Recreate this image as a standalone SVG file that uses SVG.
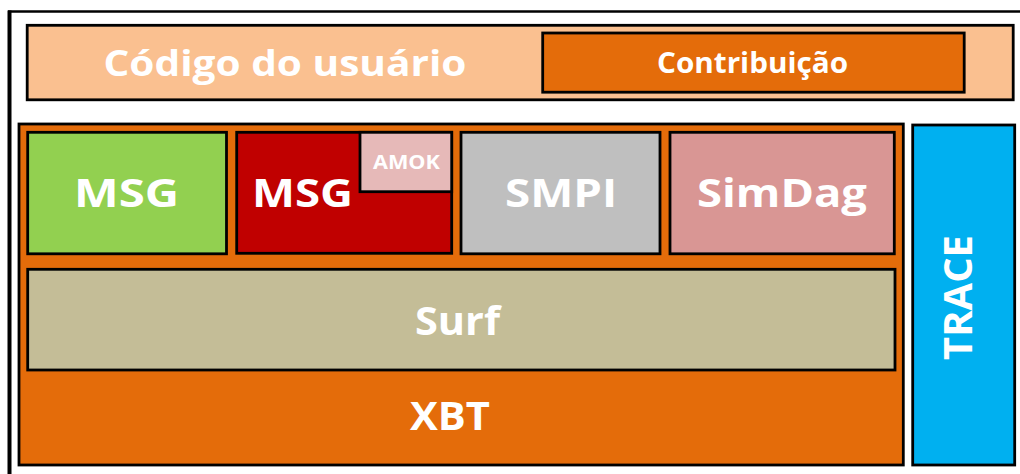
<svg xmlns="http://www.w3.org/2000/svg" width="1020" height="474" viewBox="0 0 1020 474">
  <style>
    .box { stroke: #000; stroke-width: 2.8; }
    .lbl { font-family: "Open Sans", "Liberation Sans", sans-serif; font-weight: 700; fill: #fff; text-anchor: middle; }
    .big { font-size: 40px; }
  </style>

  <!-- outer frame (runs off the right and bottom edges) -->
  <g id="frame" fill="none" stroke="#000">
    <line x1="9.5" y1="474" x2="9.5" y2="10.5" stroke-width="4"/>
    <line x1="8" y1="11.5" x2="1020" y2="11.5" stroke-width="2.6"/>
  </g>

  <!-- user code layer -->
  <g id="codigo-usuario">
    <rect class="box" x="27.2" y="25.3" width="986" height="74.5" fill="#FAC090" stroke="#222" stroke-width="2.6"/>
    <text class="lbl" x="285" y="76" font-size="36" textLength="363" lengthAdjust="spacingAndGlyphs">Código do usuário</text>
  </g>

  <g id="contribuicao">
    <rect class="box" x="542.7" y="33" width="421.5" height="59.2" fill="#E46C0A"/>
    <text class="lbl" x="752.5" y="73" font-size="28" textLength="191" lengthAdjust="spacingAndGlyphs">Contribuição</text>
  </g>

  <!-- core library block -->
  <g id="xbt">
    <rect class="box" x="19" y="124" width="884.3" height="341" fill="#E46C0A"/>
    <text class="lbl big" x="450" y="430" textLength="80" lengthAdjust="spacingAndGlyphs">XBT</text>
  </g>

  <g id="msg">
    <rect class="box" x="27.7" y="132.3" width="198.8" height="121.5" fill="#92D050"/>
    <text class="lbl big" x="126.5" y="207" textLength="105" lengthAdjust="spacingAndGlyphs">MSG</text>
  </g>

  <g id="msg-amok">
    <rect class="box" x="236.7" y="132.3" width="215" height="121" fill="#C00000"/>
    <text class="lbl big" x="302.5" y="207" textLength="101" lengthAdjust="spacingAndGlyphs">MSG</text>
  </g>

  <g id="amok">
    <rect x="360" y="132.3" width="91.7" height="59.4" fill="#E6B9B8" stroke="#000" stroke-width="2.8"/>
    <text class="lbl" x="406.5" y="169" font-size="20" textLength="67" lengthAdjust="spacingAndGlyphs">AMOK</text>
  </g>

  <g id="smpi">
    <rect class="box" x="461" y="132.3" width="199" height="121.5" fill="#BFBFBF"/>
    <text class="lbl big" x="561" y="207" textLength="112" lengthAdjust="spacingAndGlyphs">SMPI</text>
  </g>

  <g id="simdag">
    <rect class="box" x="670" y="132.3" width="224.3" height="121.5" fill="#D99694"/>
    <text class="lbl big" x="782" y="207" textLength="170" lengthAdjust="spacingAndGlyphs">SimDag</text>
  </g>

  <g id="surf">
    <rect class="box" x="27.7" y="269.3" width="867.3" height="100.7" fill="#C4BD97"/>
    <text class="lbl big" x="457.5" y="335" textLength="85" lengthAdjust="spacingAndGlyphs">Surf</text>
  </g>

  <!-- tracing column -->
  <g id="trace">
    <rect class="box" x="912.7" y="125" width="102" height="340" fill="#00B0F0"/>
    <text class="lbl big" transform="translate(972 297.5) rotate(-90)" x="0" y="0" textLength="125" lengthAdjust="spacingAndGlyphs">TRACE</text>
  </g>
</svg>
